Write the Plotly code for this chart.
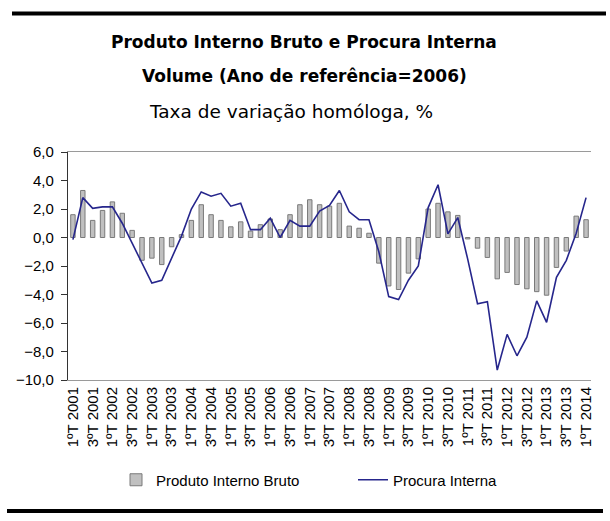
import plotly.graph_objects as go

# trimestres 1ºT 2001 ... 1ºT 2014
quarters = []
for year in range(2001, 2015):
    for q in range(1, 5):
        quarters.append(f"{q}ºT {year}")
quarters = quarters[:53]

tick_labels = [quarters[i] for i in range(0, 53, 2)]

pib = [1.6, 3.3, 1.2, 1.9, 2.5, 1.7, 0.5, -1.6, -1.45, -1.9,
       -0.65, 0.2, 1.2, 2.3, 1.6, 1.2, 0.75, 1.1, 0.45, 0.9,
       1.3, 0.55, 1.6, 2.3, 2.65, 2.3, 2.2, 2.4, 0.8, 0.65,
       0.3, -1.8, -3.4, -3.65, -2.5, -1.5, 2.0, 2.4, 1.8, 1.55,
       -0.1, -0.75, -1.4, -2.9, -2.45, -3.3, -3.6, -3.8, -4.05, -2.1,
       -0.95, 1.5, 1.25]

procura = [-0.15, 2.8, 2.05, 2.15, 2.15, 1.0, -0.4, -1.85, -3.2, -3.0,
           -1.45, 0.1, 2.0, 3.2, 2.9, 3.1, 2.2, 2.4, 0.55, 0.55,
           1.35, 0.0, 1.2, 0.8, 0.8, 1.85, 2.25, 3.3, 1.8, 1.25,
           1.25, -1.0, -4.15, -4.35, -3.0, -2.0, 2.1, 3.7, 0.25, 1.4,
           -1.5, -4.65, -4.5, -9.3, -6.8, -8.3, -7.0, -4.45, -5.95, -2.8,
           -1.6, 0.3, 2.8]

fig = go.Figure()

fig.add_trace(go.Bar(
    name="Produto Interno Bruto",
    x=quarters, y=pib,
    width=0.45,
    marker=dict(color="#c0c0c0", line=dict(color="#7a7a7a", width=1)),
))

fig.add_trace(go.Scatter(
    name="Procura Interna",
    x=quarters, y=procura,
    mode="lines",
    line=dict(color="#26268c", width=1.6),
))

W, H = 610, 521
ml, mr, mt, mb = 68, 19, 152, 141
pw, ph = W - ml - mr, H - mt - mb


def px(x):
    return (x - ml) / pw


def py(y):
    return (H - mb - y) / ph


title_font = dict(family="DejaVu Sans", size=17, color="black")
fig.update_layout(
    width=W, height=H,
    margin=dict(l=ml, r=mr, t=mt, b=mb, autoexpand=False),
    paper_bgcolor="white", plot_bgcolor="white",
    separators=",.",
    showlegend=True,
    legend=dict(orientation="h", x=px(116), y=py(480), xanchor="left", yanchor="middle",
                font=dict(family="Liberation Sans", size=15, color="black"),
                entrywidth=192, itemwidth=30, traceorder="normal"),
    xaxis=dict(
        type="category", range=[-0.5, 52.5],
        tickmode="array", tickvals=tick_labels, ticktext=tick_labels,
        tickangle=-90, ticks="", automargin=False,
        tickfont=dict(family="Liberation Sans", size=15, color="black"),
        showgrid=False, showline=True, linecolor="#9a9a9a", linewidth=1, mirror=True,
        zeroline=False,
    ),
    xaxis2=dict(
        overlaying="x", anchor="free", position=10 / 16,
        range=[-0.5, 52.5], tick0=0.5, dtick=1,
        ticks="outside", ticklen=4, tickcolor="#333333",
        showticklabels=False, showgrid=False,
        showline=True, linecolor="#333333", linewidth=1.2, zeroline=False,
    ),
    yaxis=dict(
        range=[-10, 6], dtick=2, tick0=0, tickformat=".1f",
        ticks="outside", ticklen=6, tickcolor="#333333", automargin=False,
        ticklabelstandoff=4,
        tickfont=dict(family="Liberation Sans", size=15, color="black"),
        showgrid=False, zeroline=False,
        showline=True, linecolor="#333333", linewidth=1.2,
    ),
    shapes=[
        dict(type="line", xref="paper", yref="paper",
             x0=px(12), x1=px(606), y0=py(13.5), y1=py(13.5),
             line=dict(color="black", width=4)),
        dict(type="line", xref="paper", yref="paper",
             x0=px(7), x1=px(603), y0=py(511), y1=py(511),
             line=dict(color="black", width=4)),
    ],
    annotations=[
        dict(text="<b>Produto Interno Bruto e Procura Interna</b>", xref="paper", yref="paper",
             x=px(304), y=py(42), showarrow=False, font=title_font,
             xanchor="center", yanchor="middle"),
        dict(text="<b>Volume (Ano de referência=2006)</b>", xref="paper", yref="paper",
             x=px(304), y=py(76), showarrow=False, font=title_font,
             xanchor="center", yanchor="middle"),
        dict(text="Taxa de variação homóloga, %", xref="paper", yref="paper",
             x=px(291), y=py(111), showarrow=False,
             font=dict(family="DejaVu Sans", size=18.5, color="black"),
             xanchor="center", yanchor="middle"),
    ],
)

# the page body has a default 8px margin; drop it so the figure fills the window
fig.write_html("out.html", config={"displayModeBar": False},
               post_script="document.body.style.margin='0';")
